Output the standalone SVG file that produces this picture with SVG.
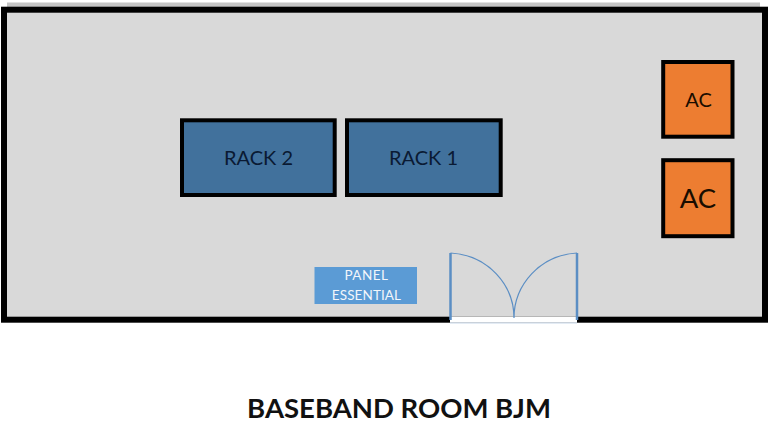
<svg xmlns="http://www.w3.org/2000/svg" width="769" height="443" viewBox="0 0 769 443">
<style>
text{font-family:Lato,"Open Sans","Liberation Sans",sans-serif;text-anchor:middle}
.rack{fill:#41719c;stroke:#000;stroke-width:4}
.ac{fill:#ed7d31;stroke:#000;stroke-width:4}
.rt{font-size:20px;fill:#0a1a33}
.door{fill:none;stroke:#5b8ec4;stroke-width:1.2}
.jamb{stroke:#5b8ec4;stroke-width:2.500}
</style>
<rect width="769" height="443" fill="#fff"/>
<g id="room"><rect x="7" y="2.500" width="753" height="5" fill="#c4c4c4"/><rect x="4" y="9.700" width="761" height="310" fill="#d9d9d9" stroke="#000" stroke-width="6"/></g>
<g id="rack-2"><rect class="rack" x="182" y="120.300" width="152.700" height="74.700"/><text class="rt" x="258.500" y="164.500">RACK 2</text></g>
<g id="rack-1"><rect class="rack" x="347" y="120.300" width="153.700" height="74.700"/><text class="rt" x="423.500" y="164.500">RACK 1</text></g>
<g id="ac-1"><rect class="ac" x="663.200" y="62" width="69.300" height="74.700"/><text x="698.500" y="107" font-size="20" fill="#1a0d00">AC</text></g>
<g id="ac-2"><rect class="ac" x="663.200" y="160.200" width="69.300" height="76"/><text x="698" y="208" font-size="27.500" fill="#1a0d00">AC</text></g>
<g id="panel"><rect x="314.500" y="267" width="102.500" height="37" fill="#5b9bd5"/><text x="366.500" y="280" font-size="13.500" letter-spacing=".5" fill="#f2f6fb">PANEL</text><text x="366.500" y="300" font-size="13.500" letter-spacing=".1" fill="#f2f6fb">ESSENTIAL</text></g>
<g id="door">
<rect x="450" y="316.700" width="127" height="6" fill="#fff"/>
<path class="jamb" d="M450.500 253V320M577 253V320"/>
<path class="door" d="M450.500 253C488 255 514 285 514 318C514 285 540 255 577 253"/>
<path d="M450 323H577" stroke="#c8d8ea" stroke-width="1"/>
</g>
<g id="title"><text x="399" y="417.500" font-size="27.500" font-weight="700" fill="#111">BASEBAND ROOM BJM</text></g>
</svg>
